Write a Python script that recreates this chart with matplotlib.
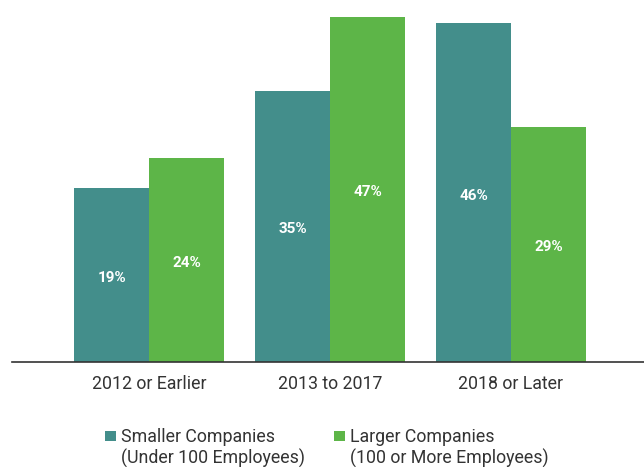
import matplotlib
matplotlib.use("Agg")
import matplotlib.pyplot as plt
import numpy as np
from matplotlib.patches import Rectangle

categories = ["2012 or Earlier", "2013 to 2017", "2018 or Later"]
series_names = ["Smaller Companies\n(Under 100 Employees)",
                "Larger Companies\n(100 or More Employees)"]
smaller = [19, 35, 46]
larger = [24, 47, 29]
colors = ["#438E8B", "#5DB548"]

plt.rcParams['font.family'] = ['Roboto', 'DejaVu Sans']

W, H = 644, 467
fig = plt.figure(figsize=(W / 100, H / 100), dpi=100)
ax_bottom = (H - 361.5) / H
ax = fig.add_axes([12 / W, ax_bottom, 1 - 12 / W, 1 - ax_bottom])

x = np.arange(len(categories))
bw = 0.414
ylo, yhi = -9.43, 49.84
ax.set_xlim(-0.757, 2.735)
ax.set_ylim(ylo, yhi)

for i, (vals, col) in enumerate(zip([smaller, larger], colors)):
    pos = x + (i - 0.5) * bw
    ax.bar(pos, [v - ylo for v in vals], bottom=ylo, width=bw, color=col, linewidth=0)
    for p, v in zip(pos, vals):
        ax.text(p, (ylo + v) / 2 - 0.5, f"{v}%", ha="center", va="center",
                color="white", fontsize=11, fontweight="bold")

for s in ["top", "right", "left"]:
    ax.spines[s].set_visible(False)
ax.spines["bottom"].set_color("#333333")
ax.spines["bottom"].set_linewidth(1.2)
ax.set_yticks([])
ax.set_xticks(x)
ax.set_xticklabels(categories, fontsize=12.8, color="#333333")
ax.tick_params(axis="x", length=0, pad=10)

# legend drawn manually (square aligned with first line)
leg_x = [105, 334]
for lx, name, col in zip(leg_x, series_names, colors):
    fig.patches.append(Rectangle((lx / W, 1 - 441 / H), 11 / W, 10 / H,
                                 transform=fig.transFigure, facecolor=col,
                                 edgecolor="none"))
    for j, line in enumerate(name.split("\n")):
        fig.text((lx + 16) / W, 1 - (436.5 + 21.5 * j) / H, line, ha="left",
                 va="center", fontsize=12.8, color="#333333")

fig.savefig("out.png", dpi=100)
